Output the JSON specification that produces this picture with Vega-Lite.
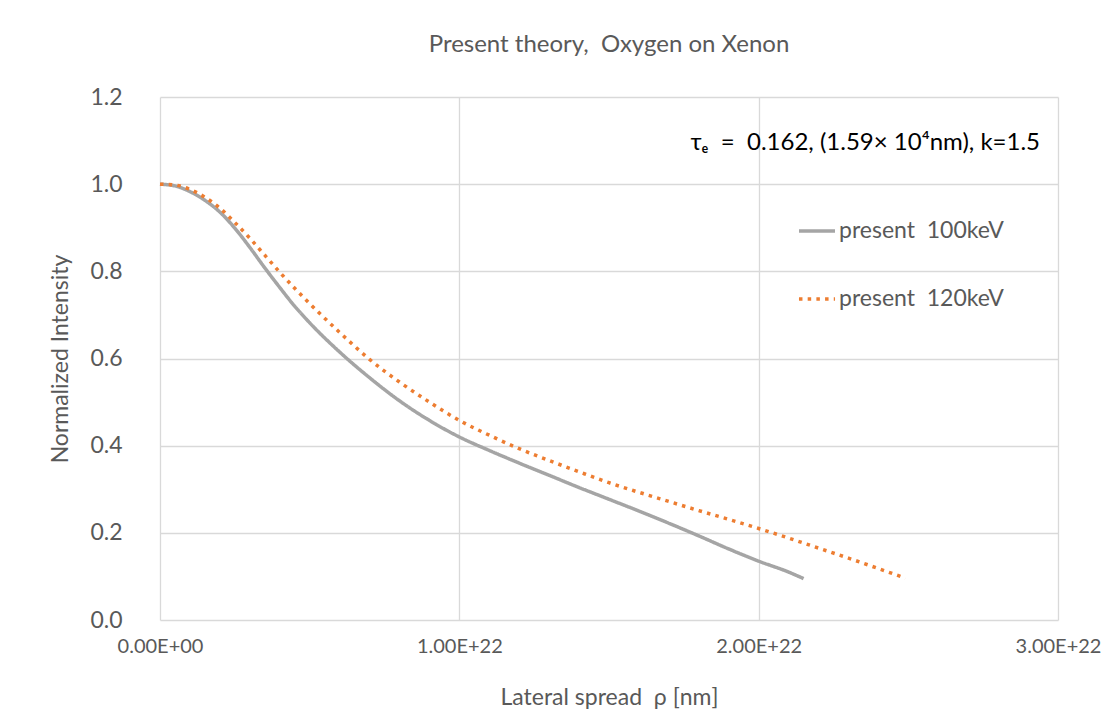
{
  "$schema": "https://vega.github.io/schema/vega-lite/v6.json",
  "width": 898,
  "height": 523,
  "autosize": {"type": "none"},
  "padding": {"left": 160, "top": 97, "right": 54, "bottom": 106},
  "background": "white",
  "title": {"text": "Present theory,\u00a0 Oxygen on Xenon", "font": "Lato", "fontSize": 24, "fontWeight": "normal", "color": "#595959", "offset": 29},
  "config": {
    "view": {"stroke": null},
    "font": "Lato",
    "axis": {"gridColor": "#d9d9d9", "gridWidth": 1.3, "domain": false, "ticks": false, "labelColor": "#595959", "titleColor": "#595959", "labelFont": "Lato", "titleFont": "Lato", "titleFontWeight": "normal"}
  },
  "datasets": {
    "curves": [
      {"rho": 0, "intensity": 1.000, "series": "present  100keV"},
      {"rho": 5e20, "intensity": 0.996, "series": "present  100keV"},
      {"rho": 1e21, "intensity": 0.983, "series": "present  100keV"},
      {"rho": 1.5e21, "intensity": 0.963, "series": "present  100keV"},
      {"rho": 2e21, "intensity": 0.936, "series": "present  100keV"},
      {"rho": 2.5e21, "intensity": 0.899, "series": "present  100keV"},
      {"rho": 3e21, "intensity": 0.855, "series": "present  100keV"},
      {"rho": 3.5e21, "intensity": 0.808, "series": "present  100keV"},
      {"rho": 4e21, "intensity": 0.763, "series": "present  100keV"},
      {"rho": 4.5e21, "intensity": 0.720, "series": "present  100keV"},
      {"rho": 5e21, "intensity": 0.682, "series": "present  100keV"},
      {"rho": 6e21, "intensity": 0.615, "series": "present  100keV"},
      {"rho": 7e21, "intensity": 0.556, "series": "present  100keV"},
      {"rho": 8e21, "intensity": 0.503, "series": "present  100keV"},
      {"rho": 9e21, "intensity": 0.458, "series": "present  100keV"},
      {"rho": 1e22, "intensity": 0.420, "series": "present  100keV"},
      {"rho": 1.1e22, "intensity": 0.389, "series": "present  100keV"},
      {"rho": 1.2e22, "intensity": 0.360, "series": "present  100keV"},
      {"rho": 1.3e22, "intensity": 0.332, "series": "present  100keV"},
      {"rho": 1.4e22, "intensity": 0.304, "series": "present  100keV"},
      {"rho": 1.5e22, "intensity": 0.277, "series": "present  100keV"},
      {"rho": 1.6e22, "intensity": 0.250, "series": "present  100keV"},
      {"rho": 1.7e22, "intensity": 0.222, "series": "present  100keV"},
      {"rho": 1.8e22, "intensity": 0.193, "series": "present  100keV"},
      {"rho": 1.9e22, "intensity": 0.163, "series": "present  100keV"},
      {"rho": 2e22, "intensity": 0.135, "series": "present  100keV"},
      {"rho": 2.1e22, "intensity": 0.110, "series": "present  100keV"},
      {"rho": 2.15e22, "intensity": 0.095, "series": "present  100keV"},
      {"rho": 0, "intensity": 1.000, "series": "present  120keV"},
      {"rho": 5e20, "intensity": 0.998, "series": "present  120keV"},
      {"rho": 1e21, "intensity": 0.988, "series": "present  120keV"},
      {"rho": 1.5e21, "intensity": 0.970, "series": "present  120keV"},
      {"rho": 2e21, "intensity": 0.945, "series": "present  120keV"},
      {"rho": 2.5e21, "intensity": 0.912, "series": "present  120keV"},
      {"rho": 3e21, "intensity": 0.876, "series": "present  120keV"},
      {"rho": 3.5e21, "intensity": 0.837, "series": "present  120keV"},
      {"rho": 4e21, "intensity": 0.798, "series": "present  120keV"},
      {"rho": 4.5e21, "intensity": 0.761, "series": "present  120keV"},
      {"rho": 5e21, "intensity": 0.726, "series": "present  120keV"},
      {"rho": 6e21, "intensity": 0.660, "series": "present  120keV"},
      {"rho": 7e21, "intensity": 0.598, "series": "present  120keV"},
      {"rho": 8e21, "intensity": 0.546, "series": "present  120keV"},
      {"rho": 9e21, "intensity": 0.500, "series": "present  120keV"},
      {"rho": 1e22, "intensity": 0.458, "series": "present  120keV"},
      {"rho": 1.1e22, "intensity": 0.424, "series": "present  120keV"},
      {"rho": 1.2e22, "intensity": 0.393, "series": "present  120keV"},
      {"rho": 1.3e22, "intensity": 0.366, "series": "present  120keV"},
      {"rho": 1.4e22, "intensity": 0.340, "series": "present  120keV"},
      {"rho": 1.5e22, "intensity": 0.315, "series": "present  120keV"},
      {"rho": 1.6e22, "intensity": 0.293, "series": "present  120keV"},
      {"rho": 1.7e22, "intensity": 0.272, "series": "present  120keV"},
      {"rho": 1.8e22, "intensity": 0.251, "series": "present  120keV"},
      {"rho": 1.9e22, "intensity": 0.231, "series": "present  120keV"},
      {"rho": 2e22, "intensity": 0.210, "series": "present  120keV"},
      {"rho": 2.1e22, "intensity": 0.188, "series": "present  120keV"},
      {"rho": 2.2e22, "intensity": 0.165, "series": "present  120keV"},
      {"rho": 2.3e22, "intensity": 0.142, "series": "present  120keV"},
      {"rho": 2.4e22, "intensity": 0.118, "series": "present  120keV"},
      {"rho": 2.49e22, "intensity": 0.096, "series": "present  120keV"}
    ],
    "note": [
      {"rho": 2.94e22, "intensity": 1.094, "label": "τₑ\u00a0 = \u00a00.162, (1.59× 10⁴nm), k=1.5"}
    ]
  },
  "layer": [
    {
      "data": {"name": "curves"},
      "mark": {"type": "line", "strokeWidth": 3.5, "interpolate": "monotone"},
      "encoding": {
        "x": {
          "field": "rho", "type": "quantitative",
          "scale": {"domain": [0, 3e22], "nice": false, "zero": true},
          "axis": {
            "values": [0, 1e22, 2e22, 3e22],
            "labelExpr": "datum.value == 0 ? '0.00E+00' : format(datum.value / 1e22, '.2f') + 'E+22'",
            "labelFlush": false,
            "labelFontSize": 20, "labelPadding": 16,
            "title": "Lateral spread\u00a0 ρ [nm]", "titleFontSize": 23, "titlePadding": 30
          }
        },
        "y": {
          "field": "intensity", "type": "quantitative",
          "scale": {"domain": [0, 1.2], "nice": false},
          "axis": {
            "values": [0, 0.2, 0.4, 0.6, 0.8, 1.0, 1.2],
            "format": ".1f",
            "labelFontSize": 23, "labelPadding": 38,
            "title": "Normalized Intensity", "titleFontSize": 23, "titlePadding": 17
          }
        },
        "color": {
          "field": "series", "type": "nominal",
          "scale": {"domain": ["present  100keV", "present  120keV"], "range": ["#a5a5a5", "#ed7d31"]},
          "legend": {
            "title": null, "orient": "none", "legendX": 637, "legendY": 114,
            "symbolType": "stroke", "symbolSize": 1300, "symbolStrokeWidth": 3.5,
            "labelFontSize": 23, "labelColor": "#595959", "labelFont": "Lato", "labelLimit": 400,
            "labelExpr": "replace(datum.label, '  ', '\u00a0\u00a0')",
            "labelOffset": 2, "rowPadding": 36
          }
        },
        "strokeDash": {
          "field": "series", "type": "nominal",
          "scale": {"domain": ["present  100keV", "present  120keV"], "range": [[1, 0], [3.5, 5.2]]},
          "legend": {
            "title": null, "orient": "none", "legendX": 637, "legendY": 114,
            "symbolType": "stroke", "symbolSize": 1300, "symbolStrokeWidth": 3.5,
            "labelFontSize": 23, "labelColor": "#595959", "labelFont": "Lato", "labelLimit": 400,
            "labelExpr": "replace(datum.label, '  ', '\u00a0\u00a0')",
            "labelOffset": 2, "rowPadding": 36
          }
        }
      }
    },
    {
      "data": {"name": "note"},
      "mark": {"type": "text", "align": "right", "baseline": "middle", "fontSize": 24, "font": "Lato", "color": "#000000"},
      "encoding": {
        "x": {"field": "rho", "type": "quantitative"},
        "y": {"field": "intensity", "type": "quantitative"},
        "text": {"field": "label"}
      }
    }
  ]
}
